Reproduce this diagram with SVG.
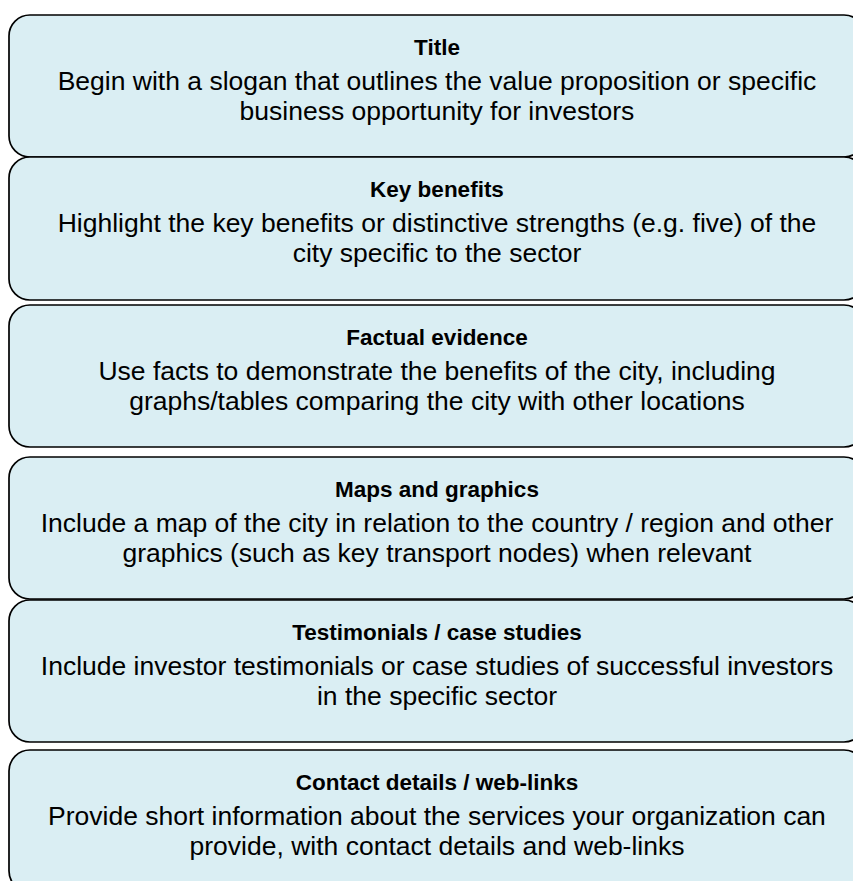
<svg xmlns="http://www.w3.org/2000/svg" width="853" height="881" viewBox="0 0 853 881">
<style>
.box{fill:#DAEEF3;stroke:#000;stroke-width:1.7}
.t{font-family:"Liberation Sans",Arial,sans-serif;font-size:26.5px;fill:#000;text-anchor:middle}
.b{font-weight:bold;font-size:22.5px}
</style>
<rect width="853" height="881" fill="#fff"/>
<g id="connectors"></g>
<g id="n1"><rect class="box" x="9" y="15" width="856" height="142" rx="21"/>
<text class="t b" x="437" y="55">Title</text>
<text class="t" x="437" y="90">Begin with a slogan that outlines the value proposition or specific</text>
<text class="t" x="437" y="120">business opportunity for investors</text></g>
<g id="n2"><rect class="box" x="9" y="157" width="856" height="143" rx="21"/>
<text class="t b" x="437" y="197">Key benefits</text>
<text class="t" x="437" y="232">Highlight the key benefits or distinctive strengths (e.g. five) of the</text>
<text class="t" x="437" y="262">city specific to the sector</text></g>
<g id="n3"><rect class="box" x="9" y="305" width="856" height="142" rx="21"/>
<text class="t b" x="437" y="345">Factual evidence</text>
<text class="t" x="437" y="380">Use facts to demonstrate the benefits of the city, including</text>
<text class="t" x="437" y="410">graphs/tables comparing the city with other locations</text></g>
<g id="n4"><rect class="box" x="9" y="457" width="856" height="142" rx="21"/>
<text class="t b" x="437" y="497">Maps and graphics</text>
<text class="t" x="437" y="532">Include a map of the city in relation to the country / region and other</text>
<text class="t" x="437" y="562">graphics (such as key transport nodes) when relevant</text></g>
<g id="n5"><rect class="box" x="9" y="600" width="856" height="142" rx="21"/>
<text class="t b" x="437" y="640">Testimonials / case studies</text>
<text class="t" x="437" y="675">Include investor testimonials or case studies of successful investors</text>
<text class="t" x="437" y="705">in the specific sector</text></g>
<g id="n6"><rect class="box" x="9" y="750" width="856" height="142" rx="21"/>
<text class="t b" x="437" y="790">Contact details / web-links</text>
<text class="t" x="437" y="825">Provide short information about the services your organization can</text>
<text class="t" x="437" y="855">provide, with contact details and web-links</text></g>
</svg>
